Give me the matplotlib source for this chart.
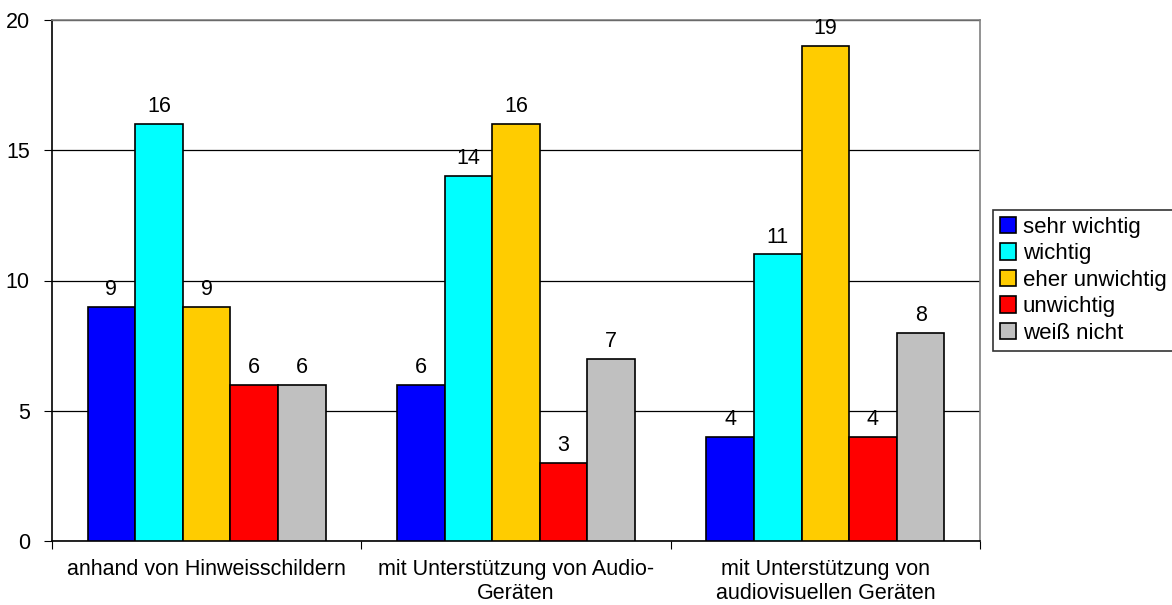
import matplotlib
matplotlib.use("Agg")
import matplotlib.pyplot as plt
import numpy as np

plt.rcParams['font.family'] = ['Liberation Sans', 'DejaVu Sans']

categories = ["anhand von Hinweisschildern",
              "mit Unterstützung von Audio-\nGeräten",
              "mit Unterstützung von\naudiovisuellen Geräten"]
series = ["sehr wichtig", "wichtig", "eher unwichtig", "unwichtig", "weiß nicht"]
values = [
    [9, 6, 4],
    [16, 14, 11],
    [9, 16, 19],
    [6, 3, 4],
    [6, 7, 8],
]
colors = ["#0000FF", "#00FFFF", "#FFCC00", "#FF0000", "#C0C0C0"]

FS = 15.5

fig = plt.figure(figsize=(11.72, 6.05), dpi=100)
ax = fig.add_axes([52 / 1172, 1 - 541 / 605, 928 / 1172, 521 / 605])

x = np.arange(len(categories))
w = 0.154
for i, (name, vals) in enumerate(zip(series, values)):
    pos = x + (i - 2) * w
    bars = ax.bar(pos, vals, w, color=colors[i], edgecolor="black", linewidth=1.2, label=name, zorder=3)
    for b, v in zip(bars, vals):
        ax.annotate(str(v), (b.get_x() + b.get_width() / 2, v), xytext=(0, 5),
                    textcoords="offset points", ha="center", va="bottom", fontsize=FS)

ax.set_xlim(-0.5, 2.5)
ax.set_ylim(0, 20)
ax.set_yticks([0, 5, 10, 15, 20])
ax.yaxis.grid(True, color="black", linewidth=0.9, zorder=0)
ax.set_xticks([-0.5, 0.5, 1.5, 2.5], minor=False)
ax.set_xticklabels([])
ax.set_xticks(x, minor=True)
ax.set_xticklabels(categories, minor=True, fontsize=FS, linespacing=1.2)
ax.tick_params(axis="x", which="minor", length=0, pad=13)
ax.tick_params(axis="x", which="major", length=6, direction="out")
ax.tick_params(axis="y", length=6, labelsize=FS, pad=10)

for s in ["top", "right"]:
    ax.spines[s].set_color("#808080")
for s in ["left", "bottom"]:
    ax.spines[s].set_color("black")
for s in ax.spines.values():
    s.set_linewidth(1.2)

leg = fig.legend(loc="upper left", bbox_to_anchor=(993 / 1172, 1 - 210 / 605), fontsize=FS + 0.5,
                 frameon=True, fancybox=False, edgecolor="black", handlelength=0.75,
                 handleheight=0.75, handletextpad=0.3, labelspacing=0.25, borderaxespad=0,
                 borderpad=0.3)
leg.get_frame().set_linewidth(1.2)

fig.savefig("out.png", dpi=100)
